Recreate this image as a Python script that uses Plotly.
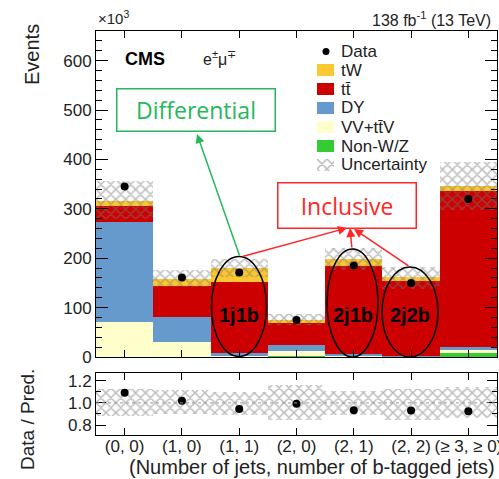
import numpy as np
import plotly.graph_objects as go

# ---------------- data (thousands of events) ----------------
categories = ["(0, 0)", "(1, 0)", "(1, 1)", "(2, 0)", "(2, 1)", "(2, 2)", "(≥ 3, ≥ 0)"]
nonwz = [1, 1, 1, 1.5, 2, 1, 8]
vv_ttv = [70, 30, 3, 10, 2, 1, 7]
dy = [202, 51, 4, 12, 2, 1, 5]
ttbar = [33, 62, 143, 46, 178, 151, 317]
tw = [10, 14, 30, 6, 14, 7, 9]
data = [345, 161, 171, 75, 185, 150, 320]
unc_up = [1.13, 1.12, 1.10, 1.16, 1.11, 1.13, 1.14]
unc_down = [0.885, 0.90, 0.89, 0.845, 0.89, 0.85, 0.86]
y_ticks_main = [0, 100, 200, 300, 400, 500, 600]
y_ticks_ratio = [0.8, 1.0, 1.2]

# ---------------- layout helpers (pixel -> paper) ----------------
W, H = 499, 479
L, R, T, B = 96, 2, 31, 44
PW, PH = W - L - R, H - T - B


def px(x):
    return (x - L) / PW


def py(y):
    return (H - B - y) / PH


FONT = "Liberation Sans, Arial, Helvetica, sans-serif"
C_TW = "#fcc831"
C_TT = "#cc0000"
C_DY = "#6699cc"
C_VV = "#ffffcc"
C_NW = "#33cc33"
HATCH = dict(shape="x", fgcolor="#767676", size=7, solidity=0.38, fillmode="overlay")

xs = np.arange(len(categories))
comps = [(nonwz, C_NW), (vv_ttv, C_VV), (dy, C_DY), (ttbar, C_TT), (tw, C_TW)]
total = np.sum([np.array(c[0], float) for c in comps], axis=0)
up = np.array(unc_up)
dn = np.array(unc_down)

fig = go.Figure()
base = np.zeros(len(xs))
for vals, col in comps:
    v = np.array(vals, float)
    fig.add_trace(go.Bar(x=xs, y=v, base=base, width=1, marker=dict(color=col, line_width=0),
                         showlegend=False, xaxis="x", yaxis="y"))
    base = base + v

# uncertainty band (main)
fig.add_trace(go.Bar(x=xs, y=total * (up - dn), base=total * dn, width=1,
                     marker=dict(color="rgba(0,0,0,0)", line_width=0, pattern=HATCH),
                     showlegend=False, xaxis="x", yaxis="y"))
# data
fig.add_trace(go.Scatter(x=xs, y=data, mode="markers", marker=dict(color="black", size=8),
                         showlegend=False, xaxis="x", yaxis="y"))

# ratio panel
fig.add_trace(go.Bar(x=xs, y=up - dn, base=dn, width=1,
                     marker=dict(color="rgba(0,0,0,0)", line_width=0, pattern=HATCH),
                     showlegend=False, xaxis="x2", yaxis="y2"))
fig.add_trace(go.Scatter(x=xs, y=np.array(data) / total, mode="markers",
                         marker=dict(color="black", size=8), showlegend=False,
                         xaxis="x2", yaxis="y2"))

# legend swatch for uncertainty (hatched), on a tiny helper axis
fig.add_trace(go.Bar(x=[0.5], y=[1], width=1,
                     marker=dict(color="rgba(0,0,0,0)", line_width=0, pattern=HATCH),
                     showlegend=False, xaxis="x3", yaxis="y3"))

axis_common = dict(showline=True, linecolor="black", linewidth=1, mirror="ticks",
                   ticks="inside", tickcolor="black", showgrid=False, zeroline=False,
                   automargin=False, ticklabeloverflow="allow",
                   tickfont=dict(family=FONT, size=17, color="#222"))

main_bottom = py(357)
ratio_top = py(373)

fig.update_layout(
    width=W, height=H, margin=dict(l=L, r=R, t=T, b=B),
    paper_bgcolor="white", plot_bgcolor="white", barmode="overlay", bargap=0,
    font=dict(family=FONT, color="#222"),
    xaxis=dict(axis_common, domain=[0, 1], range=[-0.5, 6.5], anchor="y",
               tickvals=list(xs), showticklabels=False, ticklen=7),
    yaxis=dict(axis_common, domain=[main_bottom, 1], range=[0, 660], anchor="x",
               tickvals=y_ticks_main, ticklen=12,
               minor=dict(ticks="inside", dtick=20, ticklen=6, tickcolor="black")),
    xaxis2=dict(axis_common, domain=[0, 1], range=[-0.5, 6.5], anchor="y2",
                tickvals=list(xs), ticktext=categories, ticklen=7, ticklabelstandoff=-4,
                tickfont=dict(family=FONT, size=17, color="#222")),
    yaxis2=dict(axis_common, domain=[0, ratio_top], range=[0.71, 1.27], anchor="x2",
                tickvals=y_ticks_ratio, ticktext=["0.8", "1.0", "1.2"], ticklen=10,
                minor=dict(ticks="inside", dtick=0.1, ticklen=5, tickcolor="black")),
    xaxis3=dict(domain=[px(317), px(334)], range=[0, 1], visible=False, anchor="y3", fixedrange=True),
    yaxis3=dict(domain=[py(171), py(159)], range=[0, 1], visible=False, anchor="x3", fixedrange=True),
)

shapes = []
annos = []

# dotted line at 1 in ratio
shapes.append(dict(type="line", xref="x2 domain", yref="y2", x0=0, x1=1, y0=1, y1=1,
                   line=dict(color="#999", width=1, dash="dot")))


def text(x, y, s, size=17, color="#222", xanchor="left", bold=False, family=FONT, angle=0):
    annos.append(dict(xref="paper", yref="paper", x=px(x), y=py(y), text=s, showarrow=False,
                      xanchor=xanchor, yanchor="middle", textangle=angle,
                      font=dict(family=family, size=size, color=color)))


# header texts
text(96, 18, "×10<sup>3</sup>", size=15)
text(493, 19, "138 fb<sup>-1</sup> (13 TeV)", size=16, xanchor="right")
text(123, 59, "<b>CMS</b>", size=18, color="black")
text(201, 58, "e<sup>±</sup>μ<sup>∓</sup>", size=16)

# axis titles
text(32, 55, "Events", size=20, xanchor="center", angle=-90)
text(27, 420, "Data / Pred.", size=19, xanchor="center", angle=-90)
text(497, 467, "(Number of jets, number of b-tagged jets)", size=20, xanchor="right")

# legend
leg_y = [51, 70, 89, 108, 127, 146, 165]
leg_txt = ["Data", "tW", "tt̄", "DY", "VV+tt̄V", "Non-W/Z", "Uncertainty"]
for yy, s in zip(leg_y, leg_txt):
    text(339, yy, s, size=17)
shapes.append(dict(type="circle", xref="paper", yref="paper", x0=px(322.5), x1=px(329.5),
                   y0=py(55), y1=py(48), fillcolor="black", line=dict(width=0)))
for yy, col in zip(leg_y[1:6], [C_TW, C_TT, C_DY, C_VV, C_NW]):
    shapes.append(dict(type="rect", xref="paper", yref="paper", x0=px(317), x1=px(334),
                       y0=py(yy + 6), y1=py(yy - 6), fillcolor=col, line=dict(width=0)))

# ellipses and labels
GREEN = "#25b85a"
RED = "#ff2626"
for cx, cy, rx, ry, lab in [(239, 306.5, 27.5, 50, "1j1b"), (352.5, 303, 25.5, 54, "2j1b"),
                            (410, 312, 28, 45, "2j2b")]:
    shapes.append(dict(type="circle", xref="paper", yref="paper", x0=px(cx - rx), x1=px(cx + rx),
                       y0=py(cy + ry), y1=py(cy - ry), line=dict(color="black", width=1.5)))
    text(cx, 315, "<b>" + lab + "</b>", size=20, color="black", xanchor="center")

# boxed labels
annos.append(dict(xref="paper", yref="paper", x=px(195.5), y=py(110.5), text="Differential",
                  showarrow=False, xanchor="center", yanchor="middle", width=153, height=37,
                  borderpad=2, bordercolor=GREEN, borderwidth=1.5, bgcolor="white",
                  font=dict(family="Open Sans, sans-serif", size=23, color=GREEN)))
annos.append(dict(xref="paper", yref="paper", x=px(346.5), y=py(205), text="Inclusive",
                  showarrow=False, xanchor="center", yanchor="middle", width=133, height=40,
                  borderpad=2, bordercolor=RED, borderwidth=1.5, bgcolor="white",
                  font=dict(family="Open Sans, sans-serif", size=23, color=RED)))


# arrows
def arrow(hx, hy, tx, ty, color):
    annos.append(dict(xref="paper", yref="paper", x=px(hx), y=py(hy), ax=tx - hx, ay=ty - hy,
                      axref="pixel", ayref="pixel", showarrow=True, arrowhead=2, arrowsize=1.2,
                      arrowwidth=1.5, arrowcolor=color, text=""))


arrow(197, 134, 240, 257, GREEN)
arrow(347, 228, 241, 257, RED)
arrow(350, 228, 352, 249, RED)
arrow(354, 229, 410, 267, RED)

fig.update_layout(shapes=shapes, annotations=annos)
fig.write_html("out.html", config={"displayModeBar": False},
               post_script="document.body.style.margin='0';document.body.style.overflow='hidden';")
